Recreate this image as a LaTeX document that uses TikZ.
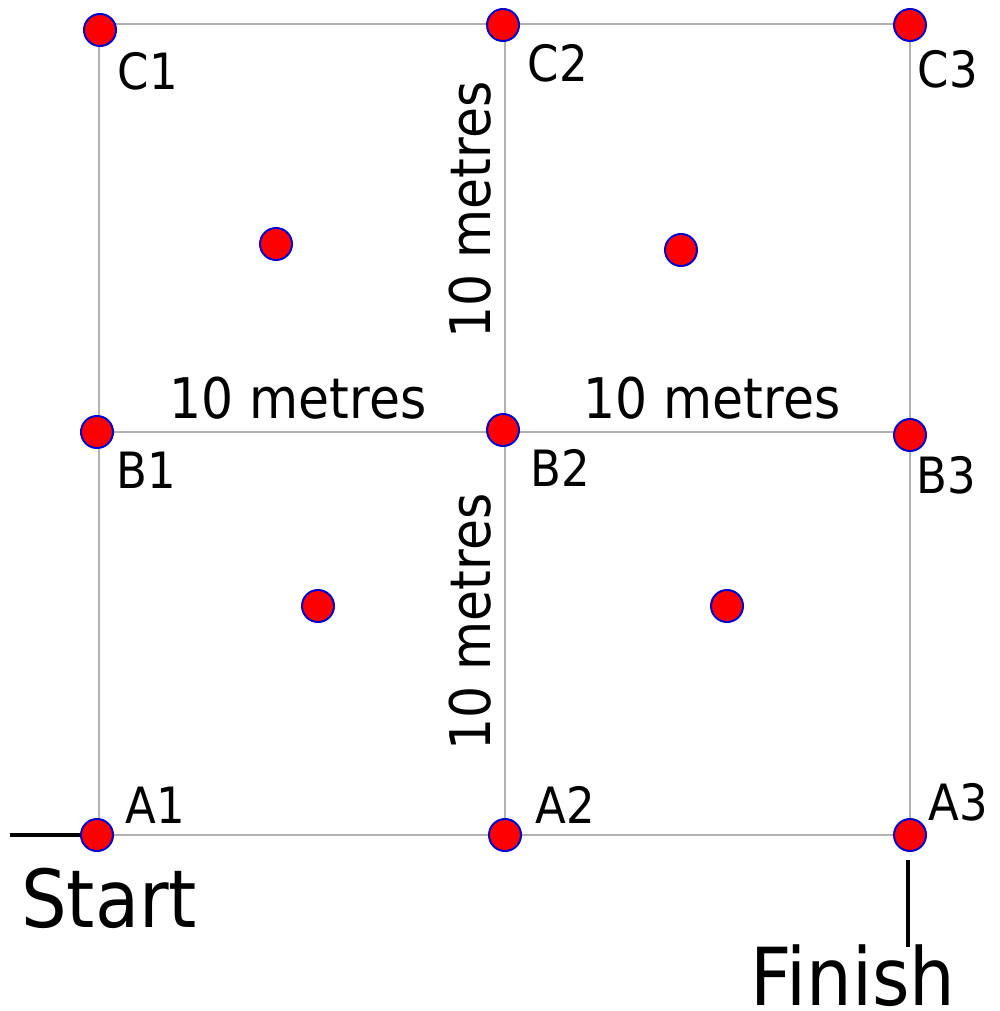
\documentclass[tikz,border=0pt]{standalone}
\usepackage{fontspec}
\setmainfont{DejaVu Sans Condensed}
\usepackage{tikz}

\tikzset{
  spot/.style={circle, fill=red, draw=blue!80!black, line width=2pt, minimum size=32pt, inner sep=0pt},
  gridline/.style={line width=1.6pt, gray!60},
  tag/.style={font=\fontsize{50}{50}\selectfont, anchor=base},
  dist/.style={font=\fontsize{56}{56}\selectfont},
  endtext/.style={font=\fontsize{80}{80}\selectfont, anchor=base, inner sep=0pt},
  mark line/.style={line width=3.5pt, black}
}

\begin{document}
\begin{tikzpicture}[x=1pt, y=-1pt]
\useasboundingbox (0,0) rectangle (999,1011);
\coordinate (g11) at (99,24);  \coordinate (g12) at (505,24);  \coordinate (g13) at (910,24);
\coordinate (g21) at (99,432); \coordinate (g22) at (505,432); \coordinate (g23) at (910,432);
\coordinate (g31) at (99,835); \coordinate (g32) at (505,835); \coordinate (g33) at (910,835);
\draw[gridline] (g11) -- (g13) (g21) -- (g23) (g31) -- (g33);
\draw[gridline] (g11) -- (g31) (g12) -- (g32) (g13) -- (g33);
\node[dist] (wtop) at (298,398) {10 metres};
\node[dist] (etop) at (712,398) {10 metres};
\node[dist, rotate=90] (ntop) at (470,210) {10 metres};
\node[dist, rotate=90] (nbot) at (470,622) {10 metres};
\node[spot] (c1) at (100,30) {};
\node[spot] (c2) at (503,25) {};
\node[spot] (c3) at (910,25) {};
\node[spot] (b1) at (97,432) {};
\node[spot] (b2) at (503,430) {};
\node[spot] (b3) at (910,435) {};
\node[spot] (a1) at (97,835) {};
\node[spot] (a2) at (505,835) {};
\node[spot] (a3) at (910,835) {};
\node[spot] (m1) at (276,244) {};
\node[spot] (m2) at (681,250) {};
\node[spot] (m3) at (318,606) {};
\node[spot] (m4) at (727,606) {};
\node[tag] at (148,90) {C1};
\node[tag] at (558,82) {C2};
\node[tag] at (948,88) {C3};
\node[tag] at (146,488) {B1};
\node[tag] at (560,486) {B2};
\node[tag] at (946,493) {B3};
\node[tag] at (155,823) {A1};
\node[tag] at (565,823) {A2};
\node[tag] at (958,820) {A3};
\node[endtext] (start) at (109,927) {Start};
\node[endtext] (finish) at (853,1005) {Finish};
\coordinate (s0) at (10,835);
\coordinate (f0) at (908,947);
\draw[mark line] (s0) -- (a1.west);
\draw[mark line] (a3.south) ++(-2,8) -- (f0);
\end{tikzpicture}
\end{document}
